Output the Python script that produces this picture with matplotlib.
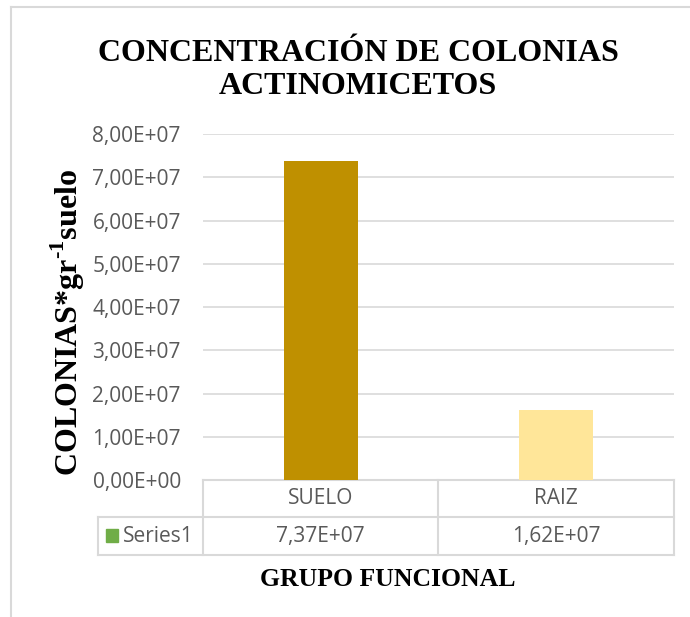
import matplotlib
matplotlib.use("Agg")
import matplotlib.pyplot as plt
from matplotlib.lines import Line2D
from matplotlib.patches import Rectangle
from matplotlib.transforms import blended_transform_factory

# datos
categorias = ["SUELO", "RAIZ"]
valores = [7.37e7, 1.62e7]
etiquetas_valor = ["7,37E+07", "1,62E+07"]
serie = "Series1"
colores = ["#BF9000", "#FFE699"]
yticks = [0, 1e7, 2e7, 3e7, 4e7, 5e7, 6e7, 7e7, 8e7]

gris = "#595959"
linea = "#D9D9D9"
sans = ["Open Sans", "DejaVu Sans"]
serif = ["Liberation Serif", "DejaVu Serif"]

fig = plt.figure(figsize=(6.9, 6.17), dpi=100)
ax = fig.add_axes([0.2942, 0.2220, 0.6826, 0.5608])

# borde exterior del grafico
fig.add_artist(Line2D([11 / 690, 11 / 690], [0, 1 - 7 / 617], transform=fig.transFigure, color=linea, lw=1.5))
fig.add_artist(Line2D([11 / 690, 1], [1 - 7 / 617, 1 - 7 / 617], transform=fig.transFigure, color=linea, lw=1.5))

x = list(range(len(categorias)))
ax.bar(x, valores, width=0.315, color=colores, zorder=3)
ax.set_xlim(-0.5, len(categorias) - 0.5)
ax.set_ylim(0, 8e7)
ax.set_yticks(yticks)
ax.set_yticklabels([f"{v:.2E}".replace(".", ",") for v in yticks], fontfamily=sans, fontsize=15, color=gris)
ax.tick_params(axis="y", length=0, pad=16)
ax.set_xticks([])
ax.grid(axis="y", color=linea, lw=1.2, zorder=0)
for s in ax.spines.values():
    s.set_visible(False)

# tabla de datos bajo el eje
tr = blended_transform_factory(ax.transData, ax.transAxes)
ta = ax.transAxes
y_top, y_mid, y_bot = 0.0, -0.107, -0.2168
x_left = -0.223
kw = dict(color=linea, lw=1.5, clip_on=False)
ax.add_line(Line2D([0, 1], [y_top, y_top], transform=ta, **kw))
ax.add_line(Line2D([x_left, 1], [y_mid, y_mid], transform=ta, **kw))
ax.add_line(Line2D([x_left, 1], [y_bot, y_bot], transform=ta, **kw))
ax.add_line(Line2D([x_left, x_left], [y_mid, y_bot], transform=ta, **kw))
ax.add_line(Line2D([0, 0], [y_top, y_bot], transform=ta, **kw))
ax.add_line(Line2D([1, 1], [y_top, y_bot], transform=ta, **kw))
for i in range(1, len(categorias)):
    ax.add_line(Line2D([i - 0.5, i - 0.5], [y_top, y_bot], transform=tr, **kw))

for i, (c, e) in enumerate(zip(categorias, etiquetas_valor)):
    ax.text(i, (y_top + y_mid) / 2, c, transform=tr, ha="center", va="center",
            fontfamily=sans, fontsize=15, color=gris)
    ax.text(i, (y_mid + y_bot) / 2, e, transform=tr, ha="center", va="center",
            fontfamily=sans, fontsize=15, color=gris)

ax.add_patch(Rectangle((-0.206, (y_mid + y_bot) / 2 - 0.016), 0.025, 0.035, transform=ta,
                       color="#70AD47", clip_on=False))
ax.text(-0.170, (y_mid + y_bot) / 2, serie, transform=ta, ha="left", va="center",
        fontfamily=sans, fontsize=15, color=gris)

# titulos
fig.text(358 / 690, 1 - 70 / 617, "CONCENTRACIÓN DE COLONIAS\nACTINOMICETOS", ha="center", va="center",
         fontfamily=serif, fontweight="bold", fontsize=23, linespacing=1.2)
fig.text(388 / 690, 1 - 579 / 617, "GRUPO FUNCIONAL", ha="center", va="center",
         fontfamily=serif, fontweight="bold", fontsize=18.5)
fig.text(68 / 690, 1 - 323 / 617, "COLONIAS*gr$^{\\mathregular{\u2010}\\mathregular{1}}$suelo",
         ha="center", va="center", rotation=90, fontfamily=serif, fontweight="bold", fontsize=23)

fig.savefig("out.png", dpi=100, facecolor="white")
